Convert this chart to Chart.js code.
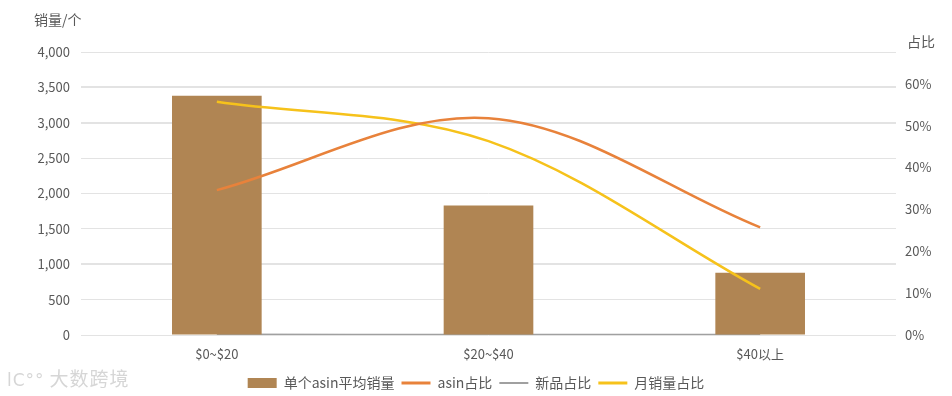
<!DOCTYPE html>
<html>
<head>
<meta charset="utf-8">
<script src="https://cdn.jsdelivr.net/npm/chart.js@4/dist/chart.umd.min.js"></script>
<style>
  html, body { margin: 0; padding: 0; background: #fff; }
  #wrap { position: relative; width: 952px; height: 396px; }
  #wm { position: absolute; left: 7px; top: 364px; color: #d6d6d6; font-family: "Noto Sans CJK SC", sans-serif; font-size: 19px; font-weight: 400; letter-spacing: 1px; }
  #wm .logo { font-family: "DejaVu Sans", sans-serif; font-size: 17px; margin-right: 5px; }
</style>
</head>
<body>
<div id="wrap">
  <canvas id="c" width="952" height="396"></canvas>
  <div id="wm"><span class="logo">lC°°</span>大数跨境</div>
</div>
<script>
const categories = ['$0~$20', '$20~$40', '$40以上'];
const avgSales = [3380, 1830, 880];
const asinShare = [0.346, 0.518, 0.257];
const newShare = [0.002, 0.001, 0.001];
const monthShare = [0.557, 0.463, 0.110];
const leftTicks = [0, 500, 1000, 1500, 2000, 2500, 3000, 3500, 4000];
const rightTicks = [0, 0.1, 0.2, 0.3, 0.4, 0.5, 0.6];

const FONT = '"Noto Sans CJK SC", "Noto Sans", sans-serif';
const TXT = '#595959';

const titlePlugin = {
  id: 'axisTitles',
  afterDraw(chart) {
    const ctx = chart.ctx;
    ctx.save();
    ctx.fillStyle = TXT;
    ctx.font = '14px ' + FONT;
    ctx.textBaseline = 'middle';
    ctx.textAlign = 'left';
    ctx.fillText('销量/个', 34, 20);
    ctx.fillText('占比', 907, 42);
    ctx.restore();
  }
};

new Chart(document.getElementById('c'), {
  data: {
    labels: categories,
    datasets: [
      { type: 'bar', label: '单个asin平均销量', data: avgSales, backgroundColor: '#b08553', yAxisID: 'y', order: 2,
        categoryPercentage: 1, barPercentage: 0.33 },
      { type: 'line', label: 'asin占比', data: asinShare, borderColor: '#e8823b', backgroundColor: '#e8823b', borderWidth: 2.5,
        pointRadius: 0, tension: 0.34, yAxisID: 'y1', order: 1, pointStyle: 'line' },
      { type: 'line', label: '新品占比', data: newShare, borderColor: '#a0a0a0', backgroundColor: '#a0a0a0', borderWidth: 1.5,
        pointRadius: 0, tension: 0.34, yAxisID: 'y1', order: 3, pointStyle: 'line' },
      { type: 'line', label: '月销量占比', data: monthShare, borderColor: '#f6c21b', backgroundColor: '#f6c21b', borderWidth: 2.5,
        pointRadius: 0, tension: 0.34, yAxisID: 'y1', order: 1, pointStyle: 'line' }
    ]
  },
  options: {
    responsive: false,
    animation: false,
    devicePixelRatio: 1,
    layout: { padding: { top: 52, bottom: -4, left: 0, right: 0 } },
    plugins: {
      tooltip: { enabled: false },
      legend: {
        position: 'bottom',
        labels: {
          usePointStyle: true, pointStyleWidth: 29, boxHeight: 10,
          font: { family: FONT, size: 14 }, color: TXT, padding: 7,
          sort: (a, b) => a.datasetIndex - b.datasetIndex,
          generateLabels(chart) {
            const items = Chart.defaults.plugins.legend.labels.generateLabels(chart);
            items.forEach(it => {
              const ds = chart.data.datasets[it.datasetIndex];
              if (ds.type === 'bar') { it.pointStyle = 'rect'; it.lineWidth = 0; it.strokeStyle = ds.backgroundColor; }
              else { it.pointStyle = 'line'; it.lineWidth = ds.borderWidth + 0.5; it.strokeStyle = ds.borderColor; }
            });
            return items;
          }
        }
      }
    },
    scales: {
      x: {
        grid: { display: false, drawTicks: false },
        border: { display: false },
        ticks: { color: TXT, font: { family: FONT, size: 13 }, padding: 11 },
        afterFit(s) { s.height = 34; }
      },
      y: {
        position: 'left', min: 0, max: 4000,
        afterBuildTicks(s) { s.ticks = leftTicks.map(v => ({ value: v })); },
        grid: { color: '#e3e3e3', drawTicks: false,
          lineWidth: c => (c.tick && [3500, 3000, 1000].includes(c.tick.value)) ? 2 : 1 },
        border: { display: false },
        ticks: { color: TXT, font: { family: FONT, size: 13 }, padding: 11,
          callback: v => v.toLocaleString('en-US') },
        afterFit(s) { s.width = 81; }
      },
      y1: {
        position: 'right', min: 0, max: 0.676,
        afterBuildTicks(s) { s.ticks = rightTicks.map(v => ({ value: v })); },
        grid: { display: false, drawTicks: false },
        border: { display: false },
        ticks: { color: TXT, font: { family: FONT, size: 13 }, padding: 9,
          callback: v => Math.round(v * 100) + '%' },
        afterFit(s) { s.width = 56; }
      }
    }
  },
  plugins: [titlePlugin]
});
</script>
</body>
</html>
